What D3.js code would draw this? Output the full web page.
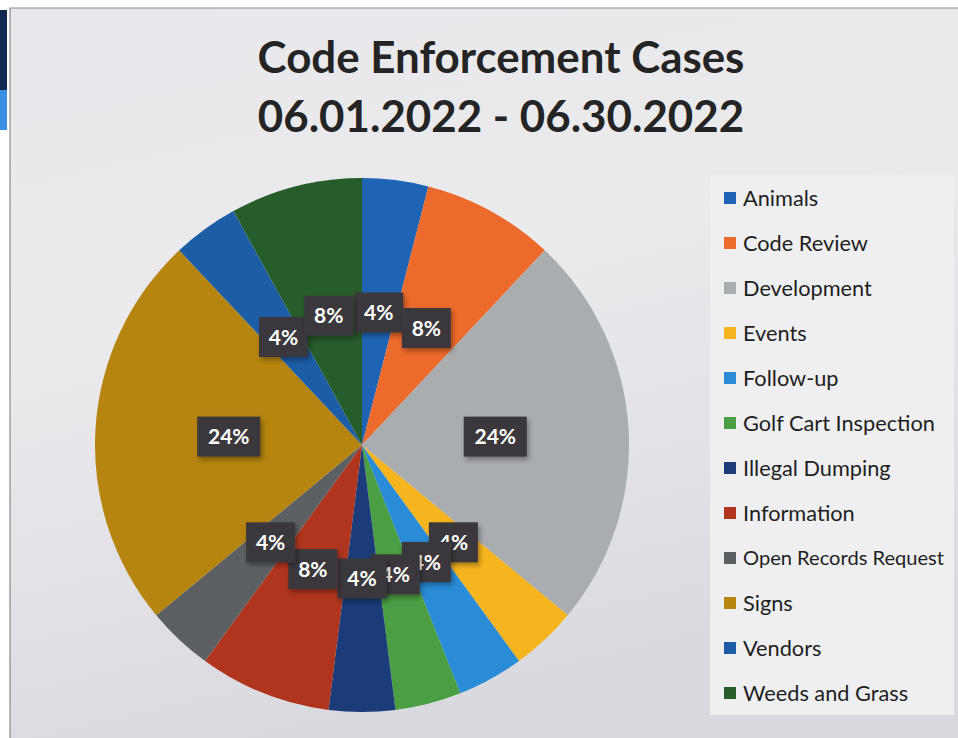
<!DOCTYPE html>
<html>
<head>
<meta charset="utf-8">
<script src="https://cdn.jsdelivr.net/npm/d3@7"></script>
<style>
  body { margin: 0; background: #ffffff; }
  svg { display: block; }
</style>
</head>
<body>
<div id="chart"></div>
<script>
// categories, in legend / pie order (clockwise from 12 o'clock)
const categories = [
  "Animals", "Code Review", "Development", "Events", "Follow-up",
  "Golf Cart Inspection", "Illegal Dumping", "Information",
  "Open Records Request", "Signs", "Vendors", "Weeds and Grass"
];
// number of cases (25 total, 1 case = 4%)
const caseCounts = [1, 2, 6, 1, 1, 1, 1, 2, 1, 6, 1, 2];
const sliceColors = [
  "#1f64b4", "#ec6a2c", "#a9adb0", "#f6b51e", "#2a8bd6", "#4b9e43",
  "#1b3c78", "#b0351e", "#5c6062", "#b5850f", "#1d5da6", "#275d2a"
];
const titleLines = ["Code Enforcement Cases", "06.01.2022 - 06.30.2022"];

var width = 958, height = 738;
var cx = 362, cy = 445, radius = 267;

var svg = d3.select("#chart").append("svg")
  .attr("width", width)
  .attr("height", height);

var defs = svg.append("defs");

// slide background gradient
var grad = defs.append("linearGradient")
  .attr("id", "slideBg")
  .attr("x1", 0).attr("y1", 0).attr("x2", 0.3).attr("y2", 1);
grad.append("stop").attr("offset", "0%").attr("stop-color", "#e8e8ec");
grad.append("stop").attr("offset", "45%").attr("stop-color", "#ebebee");
grad.append("stop").attr("offset", "100%").attr("stop-color", "#d9d9e0");

var shadow = defs.append("filter").attr("id", "lblShadow")
  .attr("x", "-30%").attr("y", "-30%").attr("width", "160%").attr("height", "160%");
shadow.append("feDropShadow")
  .attr("dx", 2).attr("dy", 3).attr("stdDeviation", 2.5)
  .attr("flood-color", "#000").attr("flood-opacity", 0.35);

// page edge bits of the scan
svg.append("rect").attr("x", 0).attr("y", 10).attr("width", 7).attr("height", 80).attr("fill", "#13294f");
svg.append("rect").attr("x", 0).attr("y", 90).attr("width", 7).attr("height", 40).attr("fill", "#3a8fe0");

// slide
svg.append("rect")
  .attr("x", 10).attr("y", 8)
  .attr("width", width - 10).attr("height", height - 8)
  .attr("fill", "url(#slideBg)");
svg.append("path")
  .attr("d", `M10,${height} V8 H${width}`)
  .attr("fill", "none")
  .attr("stroke", "#8a8a8e").attr("stroke-width", 1.2);

// title
var title = svg.append("g").attr("class", "title");
title.selectAll("text")
  .data(titleLines)
  .join("text")
  .attr("x", 501)
  .attr("y", (d, i) => 73 + i * 59)
  .attr("text-anchor", "middle")
  .attr("font-family", "Lato, 'Open Sans', sans-serif")
  .attr("font-weight", "bold")
  .attr("font-size", 40)
  .attr("fill", "#242424")
  .text(d => d);
// fit the first line to the width of the original
var t0 = title.select("text").node();
var fs = 40 * 487 / t0.getComputedTextLength();
title.selectAll("text").attr("font-size", fs);

// pie
var pie = d3.pie().sort(null).value(d => d.count);
var arc = d3.arc().innerRadius(0).outerRadius(radius);

var data = categories.map((c, i) => ({ name: c, count: caseCounts[i], color: sliceColors[i] }));
var total = d3.sum(caseCounts);
var arcs = pie(data);

var g = svg.append("g").attr("transform", `translate(${cx},${cy})`);

g.selectAll(".arcs")
  .data(arcs)
  .join("path")
  .attr("class", "arcs")
  .attr("fill", d => d.data.color)
  .attr("d", arc);

// data labels, dark boxes at the centroid
var labels = g.selectAll(".lbl")
  .data(arcs)
  .join("g")
  .attr("class", "lbl")
  .attr("transform", d => `translate(${arc.centroid(d)})`);

labels.each(function (d) {
  var el = d3.select(this);
  var txt = Math.round(d.data.count / total * 100) + "%";
  var bw = txt.length > 2 ? 63 : 49;
  el.append("rect")
    .attr("x", -bw / 2).attr("y", -20)
    .attr("width", bw).attr("height", 40)
    .attr("fill", "#3a383c")
    .attr("filter", "url(#lblShadow)");
  el.append("text")
    .attr("text-anchor", "middle")
    .attr("dy", "0.36em")
    .attr("font-family", "Lato, 'Open Sans', sans-serif")
    .attr("font-weight", "bold")
    .attr("font-size", 21)
    .attr("fill", "#ffffff")
    .text(txt);
});

// legend
var legend = svg.append("g");
legend.append("rect")
  .attr("x", 710).attr("y", 175)
  .attr("width", 244).attr("height", 540)
  .attr("fill", "#efeff2");

var items = legend.selectAll(".legendItem")
  .data(data)
  .join("g")
  .attr("class", "legendItem")
  .attr("transform", (d, i) => `translate(724,${198 + i * 45})`);

items.append("rect")
  .attr("x", 0).attr("y", -6)
  .attr("width", 12).attr("height", 12)
  .attr("fill", d => d.color);

items.append("text")
  .attr("x", 19)
  .attr("dy", "0.35em")
  .attr("font-family", "Lato, 'Open Sans', sans-serif")
  .attr("font-size", 20)
  .attr("fill", "#1e1e1e")
  .text(d => d.name);

// fit legend font to original width of "Golf Cart Inspection"
var golf = items.filter(d => d.name === "Golf Cart Inspection").select("text").node();
var lfs = 20 * 192 / golf.getComputedTextLength();
items.selectAll("text").attr("font-size", lfs);

// shrink any entry that would run past the legend box
var maxW = 944 - (724 + 19);
items.selectAll("text").each(function () {
  var w = this.getComputedTextLength();
  if (w > maxW) {
    d3.select(this).attr("font-size", lfs * maxW / w);
  }
});
</script>
</body>
</html>
